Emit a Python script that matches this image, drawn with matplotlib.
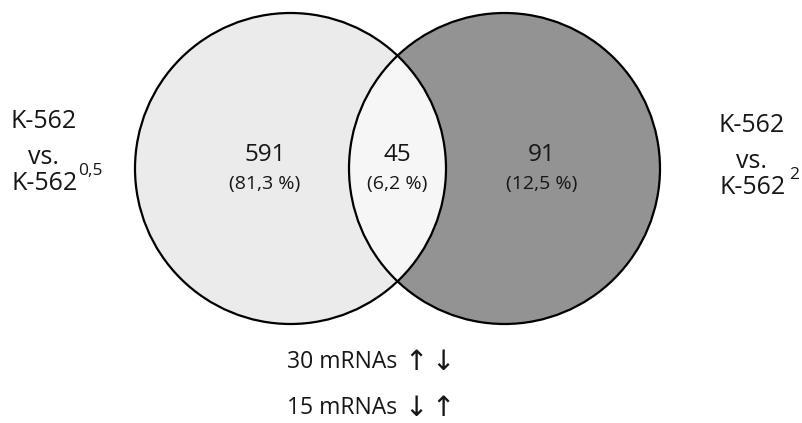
import matplotlib.pyplot as plt
from matplotlib.patches import Circle

plt.rcParams['font.family'] = ['Open Sans', 'DejaVu Sans']

# data
counts = [591, 45, 91]
percents = ["(81,3 %)", "(6,2 %)", "(12,5 %)"]
region_x = [265, 397, 542]
bottom_text = ["30 mRNAs", "15 mRNAs"]
bottom_arrows = [("\u2191", "\u2193"), ("\u2193", "\u2191")]

fig = plt.figure(figsize=(8.03, 4.23), dpi=100)
ax = fig.add_axes([0, 0, 1, 1])
ax.set_xlim(0, 803)
ax.set_ylim(423, 0)
ax.axis('off')

r = 155.5
cy = 168.5
left_c = (290.5, cy)
right_c = (504.5, cy)

# filled circles
ax.add_patch(Circle(left_c, r, facecolor='#ebebeb', edgecolor='none', zorder=1))
ax.add_patch(Circle(right_c, r, facecolor='#939393', edgecolor='none', zorder=1))
# lens: right circle clipped by left circle
lens = Circle(right_c, r, facecolor='#f6f6f6', edgecolor='none', zorder=2)
ax.add_patch(lens)
clip = Circle(left_c, r, transform=ax.transData, facecolor='none')
lens.set_clip_path(clip)
# outlines
ax.add_patch(Circle(left_c, r, facecolor='none', edgecolor='black', lw=1.6, zorder=3))
ax.add_patch(Circle(right_c, r, facecolor='none', edgecolor='black', lw=1.6, zorder=3))

for x, n, p in zip(region_x, counts, percents):
    ax.text(x, 155, str(n), ha='center', va='center', fontsize=17.5, color='#161616', zorder=4)
    ax.text(x, 184, p, ha='center', va='center', fontsize=14, color='#161616', zorder=4)

# left labels
lab = dict(fontsize=18, color='#161616', va='center')
ax.text(44, 122, "K-562", ha='center', **lab)
ax.text(44, 158, "vs.", ha='center', **lab)
ax.text(12, 184, "K-562", ha='left', **lab)
ax.text(78, 171, "0,5", ha='left', fontsize=12.5, color='#161616', va='center')

# right labels
ax.text(752, 125, "K-562", ha='center', **lab)
ax.text(752, 162, "vs.", ha='center', **lab)
ax.text(720, 188, "K-562", ha='left', **lab)
ax.text(789, 175, "2", ha='left', fontsize=12.5, color='#161616', va='center')

# bottom lines
for y, t, (a1, a2) in zip([362, 408], bottom_text, bottom_arrows):
    ax.text(287, y, t, ha='left', va='center', fontsize=16.5, color='#161616')
    ax.text(416, y, a1, ha='center', va='center', fontsize=20, color='#161616',
            family='DejaVu Sans')
    ax.text(443, y, a2, ha='center', va='center', fontsize=20, color='#161616',
            family='DejaVu Sans')

fig.savefig("out.png", dpi=100)
